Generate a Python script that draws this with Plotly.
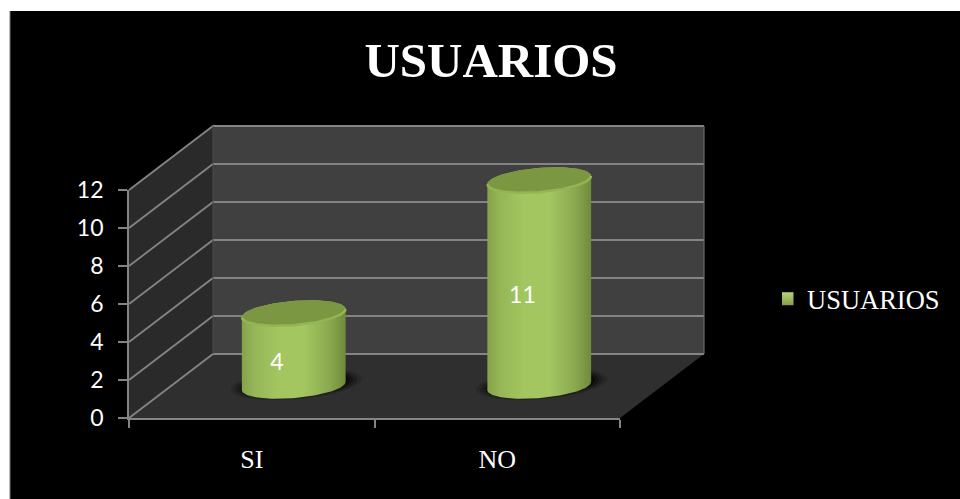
import numpy as np
import plotly.graph_objects as go

# ---- data ----
categories = ["SI", "NO"]
series_name = "USUARIOS"
values = [4, 11]
y_ticks = [0, 2, 4, 6, 8, 10, 12]
title_text = "USUARIOS"

# ---- canvas / projection settings ----
W, H = 960, 499
AX_L, AX_R, AX_B, AX_T = 129, 620, 418, 190
X_RANGE = [-0.5, 1.5]
Y_RANGE = [0, 12]
UX = (AX_R - AX_L) / (X_RANGE[1] - X_RANGE[0])   # px per x unit
UY = (AX_B - AX_T) / (Y_RANGE[1] - Y_RANGE[0])   # px per y unit
DX = 84 / UX                        # back-wall offset, x units
DY = 64 / UY                        # back-wall offset, y units
RX, RD = 0.2, 0.2                   # cylinder radius along x and along depth
TOP_INSET = 3 / UY                  # the 3-D top sits slightly below the nominal level
LABEL_DROP = 3 / UY
GRID = "#848484"
SERIF = "Liberation Serif"
SANS = "Lato"


def proj(x, y, d):
    return np.asarray(x, float) + np.asarray(d, float) * DX, np.asarray(y, float) + np.asarray(d, float) * DY


def poly(xs, ys, color):
    return go.Scatter(x=list(xs), y=list(ys), mode="lines", fill="toself", fillcolor=color,
                      line=dict(width=0), hoverinfo="skip", showlegend=False)


def line(xs, ys, color=GRID, width=1.8):
    return go.Scatter(x=list(xs), y=list(ys), mode="lines", line=dict(color=color, width=width),
                      hoverinfo="skip", showlegend=False)


fig = go.Figure()
x0, x1 = X_RANGE
y0, y1 = Y_RANGE

# walls and floor (drawn on the hidden full-canvas axes x/y, same scale as the visible axes)
px, py = proj([x0, x0, x0, x0], [y0, y1, y1, y0], [0, 0, 1, 1])
fig.add_trace(poly(px, py, "#2a2a2a"))
px, py = proj([x0, x0, x1, x1], [y0, y1, y1, y0], [1, 1, 1, 1])
fig.add_trace(poly(px, py, "#404040"))
px, py = proj([x0, x1, x1, x0], [y0, y0, y0, y0], [0, 0, 1, 1])
fig.add_trace(poly(px, py, "#2f2f2f"))

# gridlines on both walls
for t in y_ticks:
    px, py = proj([x0, x0, x1], [t, t, t], [0, 1, 1])
    fig.add_trace(line(px, py))
px, py = proj([x1, x1], [y0, y1], [1, 1])
fig.add_trace(line(px, py, "#6a6a6a", 1.2))
px, py = proj([x0, x0], [y0, y1], [1, 1])
fig.add_trace(line(px, py, "#4a4a4a", 1))

# cylinders
for i, v in enumerate(values):
    te = np.arctan2(RD * DX, RX)
    top = v - TOP_INSET
    # shadow on the floor
    t = np.linspace(0, 2 * np.pi, 90)
    for scale, alpha in [(1.26, 0.14), (1.18, 0.22), (1.1, 0.32), (1.03, 0.4)]:
        sx, sy = proj(i + scale * RX * np.cos(t), 0 * t, 0.5 + scale * RD * np.sin(t) + 0.03)
        fig.add_trace(poly(sx, sy, f"rgba(0,0,0,{alpha})"))
    # body: front arc of the base, then back arc of the top
    tf = np.linspace(te, te - np.pi, 60)
    bx, by = proj(i + RX * np.cos(tf), 0 * tf, 0.5 + RD * np.sin(tf))
    tb = np.linspace(te - np.pi, te - 2 * np.pi, 60)
    tx, ty = proj(i + RX * np.cos(tb), top + 0 * tb, 0.5 + RD * np.sin(tb))
    fig.add_trace(go.Scatter(
        x=np.r_[bx, tx].tolist(), y=np.r_[by, ty].tolist(), mode="lines", fill="toself",
        line=dict(width=0), hoverinfo="skip", showlegend=False,
        fillgradient=dict(type="horizontal", colorscale=[
            [0.0, "#85a249"], [0.12, "#96b657"], [0.35, "#a3c660"], [0.6, "#a3c660"],
            [0.85, "#8aa84e"], [1.0, "#6f8a3c"]])))
    # top face with a soft light front rim
    ex, ey = proj(i + RX * np.cos(t), top + 0 * t, 0.5 + RD * np.sin(t))
    fig.add_trace(poly(ex, ey, "#7c9741"))
    rx_, ry_ = proj(i + RX * np.cos(tf), top + 0 * tf, 0.5 + RD * np.sin(tf))
    fig.add_trace(line(rx_, ry_, "#94b554", 2.4))

# data labels
lx, ly = proj(np.arange(len(values)), np.array(values) / 2 - LABEL_DROP, 0.3 * np.ones(len(values)))
fig.add_trace(go.Scatter(x=lx.tolist(), y=ly.tolist(), mode="text", text=[str(v) for v in values],
                         textposition="middle center", textfont=dict(family=SANS, size=23, color="white"),
                         hoverinfo="skip", showlegend=False))

# legend entry, on the visible axes
fig.add_trace(go.Scatter(x=[None], y=[None], mode="markers", name=series_name, xaxis="x2", yaxis="y2",
                         marker=dict(symbol="square", size=13, color="#b7d27a",
                                     gradient=dict(type="vertical", color="#84a045"),
                                     line=dict(width=0))))

fig.update_layout(
    width=W, height=H, autosize=False,
    margin=dict(l=0, r=0, t=0, b=0, autoexpand=False),
    paper_bgcolor="white", plot_bgcolor="rgba(0,0,0,0)",
    title=dict(text=f"<b>{title_text}</b>", x=491 / W, xanchor="center", y=1 - 60 / H, yanchor="middle",
               font=dict(family=SERIF, size=49, color="white")),
    legend=dict(x=782 / W, y=1 - 299 / H, xanchor="left", yanchor="middle", bgcolor="rgba(0,0,0,0)",
                font=dict(family=SERIF, size=26.5, color="white"), itemwidth=30, indentation=-15),
    # hidden axes spanning the whole canvas at the same scale as the visible ones
    xaxis=dict(domain=[0, 1], visible=False, fixedrange=True,
               range=[X_RANGE[0] - AX_L / UX, X_RANGE[0] + (W - AX_L) / UX]),
    yaxis=dict(domain=[0, 1], visible=False, fixedrange=True,
               range=[Y_RANGE[0] - (H - AX_B) / UY, Y_RANGE[0] + AX_B / UY]),
    xaxis2=dict(domain=[AX_L / W, AX_R / W], range=X_RANGE, anchor="y2", tickmode="array",
                tickvals=list(range(len(categories))), ticktext=categories, ticks="", showgrid=False,
                zeroline=False, showline=True, linecolor=GRID, linewidth=1.8, ticklabelstandoff=17,
                tickfont=dict(family=SERIF, size=26, color="white"),
                minor=dict(tickmode="array", tickvals=[-0.5, 0.5, 1.5], ticks="outside", ticklen=8,
                           tickcolor=GRID, tickwidth=1.8, showgrid=False)),
    yaxis2=dict(domain=[1 - AX_B / H, 1 - AX_T / H], range=Y_RANGE, anchor="x2", tickmode="array",
                tickvals=y_ticks, ticks="outside", ticklen=9, tickcolor=GRID, tickwidth=1.8,
                showgrid=False, zeroline=False, showline=True, linecolor=GRID, linewidth=1.8,
                ticklabelstandoff=10, tickfont=dict(family=SANS, size=23, color="white")),
    shapes=[
        dict(type="rect", xref="paper", yref="paper", x0=10 / W, x1=1, y0=0, y1=1 - 11 / H,
             fillcolor="black", line=dict(width=0), layer="below"),
        dict(type="line", xref="paper", yref="paper", x0=10 / W, x1=10 / W, y0=0, y1=1 - 11 / H,
             line=dict(color="#777777", width=1), layer="below"),
    ],
)
fig.write_html("out.html", config={"displayModeBar": False},
               post_script="document.body.style.margin='0';")
